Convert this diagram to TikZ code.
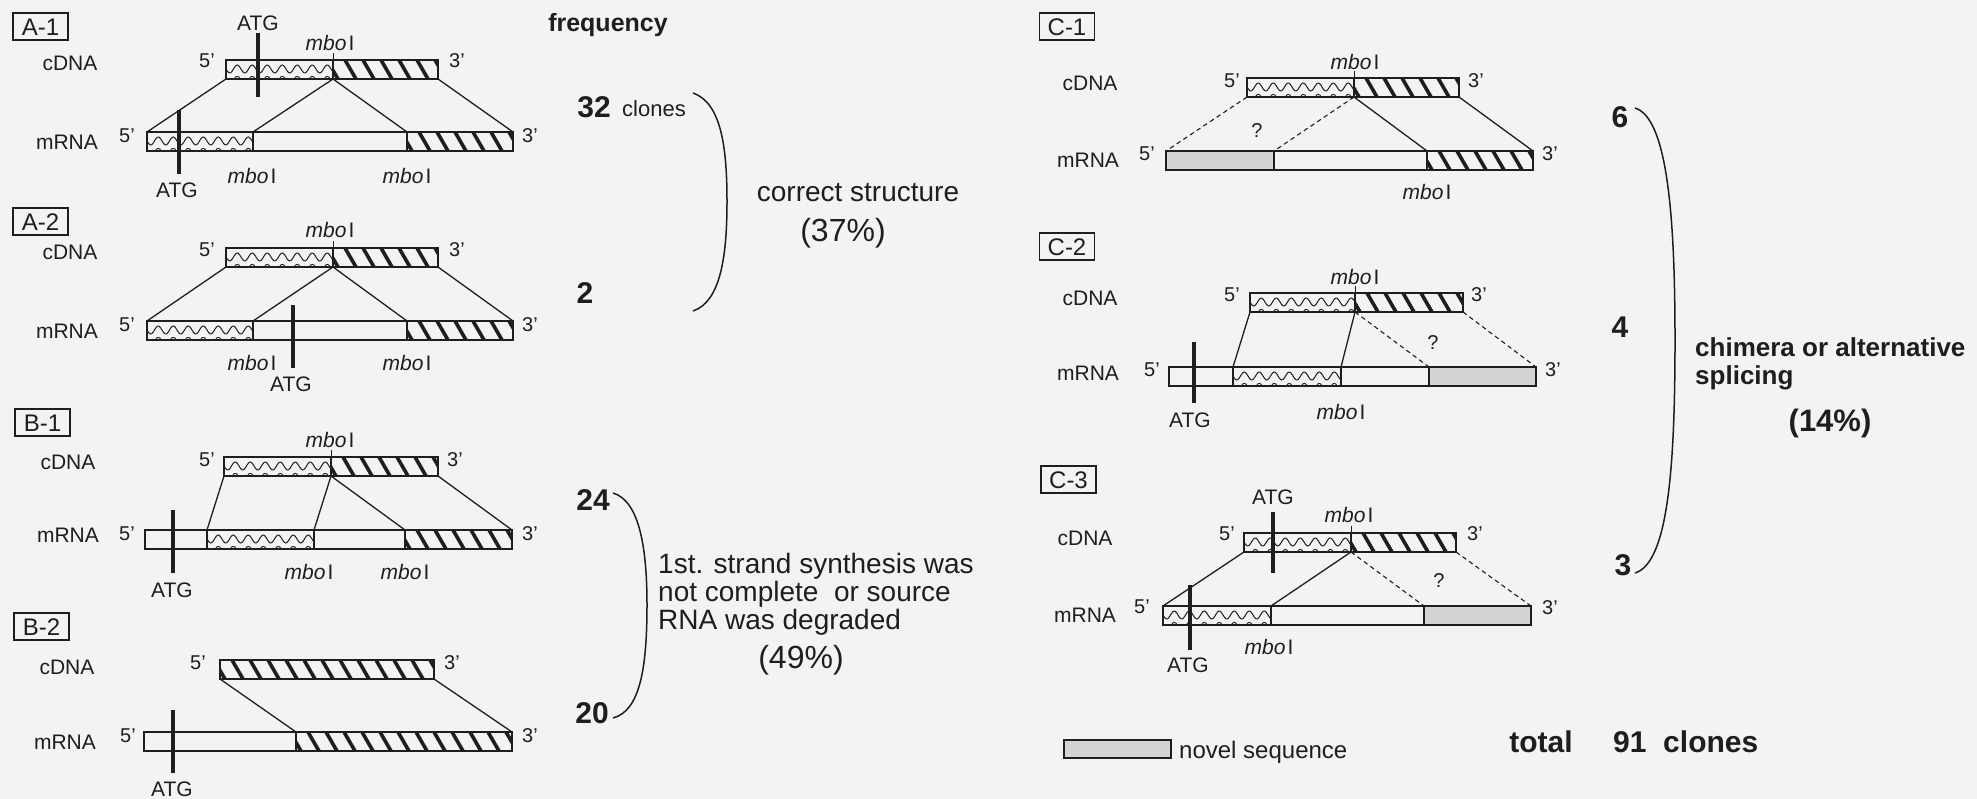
\documentclass[tikz,border=0pt]{standalone}
\usepackage{fontspec}
\setmainfont{Liberation Sans}
\newcommand\fs[1]{\fontsize{#1}{#1}\selectfont}
\definecolor{ink}{RGB}{30,30,30}
\definecolor{bg}{RGB}{243,243,241}
\definecolor{novel}{RGB}{212,212,210}
\tikzset{
 barline/.style={draw=ink, line width=1.2pt},
 conn/.style={draw=ink, line width=1.3pt},
 dconn/.style={draw=ink, line width=1.1pt, dash pattern=on 4.5pt off 3.5pt},
 atgbar/.style={draw=ink, line width=4pt},
 site/.style={draw=ink, line width=0.8pt},
 brk/.style={draw=ink, line width=1.5pt},
 tx/.style={inner sep=0pt, text=ink, font=\fs{21}, text height=15pt, text depth=0pt},
 pr/.style={inner sep=0pt, text=ink, font=\fs{20}, text height=14.4pt, text depth=0pt},
 qm/.style={inner sep=0pt, text=ink, font=\fs{20}, text height=14.4pt, text depth=0pt},
 bx/.style={draw=ink, line width=1.2pt, inner sep=0pt, minimum width=55pt, minimum height=27pt, text=ink, font=\fs{24}, text height=17.3pt, text depth=0pt},
 num/.style={inner sep=0pt, text=ink, font=\bfseries\fs{30}, text height=21.5pt, text depth=0pt},
 big/.style={inner sep=0pt, text=ink, font=\fs{28}, text height=20pt, text depth=0pt},
 pct/.style={inner sep=0pt, text=ink, font=\fs{32}, text height=23pt, text depth=0pt},
 sm/.style={inner sep=0pt, text=ink, font=\fs{22}, text height=15.8pt, text depth=0pt},
 leg/.style={inner sep=0pt, text=ink, font=\fs{24}, text height=17.3pt, text depth=0pt},
 hv/.style={inner sep=0pt, text=ink, font=\bfseries\fs{26}, text height=18.7pt, text depth=0pt},
}
\newcommand\mbo{\textit{mbo}\kern2pt I}
% #1 x1, #2 y top, #3 x2, #4 y bottom
\newcommand\wavebar[4]{%
 \begin{scope}
 \clip (#1,#2) rectangle (#3,#4);
 \pgfmathsetmacro\wm{(#2+#4)/2-0.5}
 \draw[ink, line width=1pt] plot[domain=#1:#3, samples=90] (\x,{\wm+4*sin((\x-#1)*24)});
 \pgfmathsetmacro\ws{#1+11.25}
 \pgfmathsetmacro\wn{#1+26.25}
 \foreach \k in {\ws,\wn,...,#3} \draw[ink, line width=0.9pt] (\k-2.6,#4) arc[start angle=180, end angle=360, radius=2.6];
 \end{scope}
 \draw[barline] (#1,#2) rectangle (#3,#4);}
\newcommand\hatchbar[4]{%
 \begin{scope}
 \clip (#1,#2) rectangle (#3,#4);
 \pgfmathsetmacro\hs{#1-6}
 \pgfmathsetmacro\hn{#1+12}
 \foreach \k in {\hs,\hn,...,#3} \draw[ink, line width=3.6pt] (\k,#2) -- ++(11,19);
 \end{scope}
 \draw[barline] (#1,#2) rectangle (#3,#4);}
\newcommand\plainbar[4]{\draw[barline] (#1,#2) rectangle (#3,#4);}
\newcommand\novelbar[4]{\draw[barline, fill=novel] (#1,#2) rectangle (#3,#4);}
\begin{document}
\begin{tikzpicture}[x=1pt, y=-1pt]
\fill[bg] (0,0) rectangle (1977,799);
\useasboundingbox (0,0) rectangle (1977,799);

% ================= A-1 =================
\node[bx] (A1box) at (40.5,26.5) {A-1};
\node[tx] (A1cl) at (70,63) {cDNA};
\node[tx] (A1ml) at (67,142) {mRNA};
\wavebar{226}{60}{333}{79}
\hatchbar{333}{60}{438}{79}
\wavebar{147}{132}{253}{151}
\plainbar{253}{132}{407}{151}
\hatchbar{407}{132}{513}{151}
\draw[site] (333,53) -- (333,79);
\coordinate (A1c1) at (226,79); \coordinate (A1cm) at (333,79); \coordinate (A1c2) at (438,79);
\coordinate (A1m1) at (147,132); \coordinate (A1ma) at (253,132); \coordinate (A1mb) at (407,132); \coordinate (A1m2) at (513,132);
\draw[conn] (A1c1) -- (A1m1);
\draw[conn] (A1cm) -- (A1ma);
\draw[conn] (A1cm) -- (A1mb);
\draw[conn] (A1c2) -- (A1m2);
\node[pr] (A1p5c) at (207,60) {5'};
\node[pr] (A1p3c) at (457,60) {3'};
\node[pr] (A1p5m) at (127,135) {5'};
\node[pr] (A1p3m) at (530,135) {3'};
\node[tx] (A1mbo) at (330,43) {\mbo};
\node[tx] (A1mboa) at (252,176) {\mbo};
\node[tx] (A1mbob) at (407,176) {\mbo};
\node[tx] (A1atg) at (258,23) {ATG};
\coordinate (A1atgt) at (258,33); \coordinate (A1atgb) at (258,97);
\draw[atgbar] (A1atgt) -- (A1atgb);
\node[tx] (A1atg2) at (177,190) {ATG};
\coordinate (A1atg2t) at (179,110); \coordinate (A1atg2b) at (179,174);
\draw[atgbar] (A1atg2t) -- (A1atg2b);

% ================= A-2 =================
\node[bx] (A2box) at (40.5,221.5) {A-2};
\node[tx] (A2cl) at (70,252) {cDNA};
\node[tx] (A2ml) at (67,331) {mRNA};
\wavebar{226}{248}{333}{267}
\hatchbar{333}{248}{438}{267}
\wavebar{147}{321}{253}{340}
\plainbar{253}{321}{407}{340}
\hatchbar{407}{321}{513}{340}
\draw[site] (333,241) -- (333,267);
\coordinate (A2c1) at (226,267); \coordinate (A2cm) at (333,267); \coordinate (A2c2) at (438,267);
\coordinate (A2m1) at (147,321); \coordinate (A2ma) at (253,321); \coordinate (A2mb) at (407,321); \coordinate (A2m2) at (513,321);
\draw[conn] (A2c1) -- (A2m1);
\draw[conn] (A2cm) -- (A2ma);
\draw[conn] (A2cm) -- (A2mb);
\draw[conn] (A2c2) -- (A2m2);
\node[pr] (A2p5c) at (207,249) {5'};
\node[pr] (A2p3c) at (457,249) {3'};
\node[pr] (A2p5m) at (127,324) {5'};
\node[pr] (A2p3m) at (530,324) {3'};
\node[tx] (A2mbo) at (330,230) {\mbo};
\node[tx] (A2mboa) at (252,363) {\mbo};
\node[tx] (A2mbob) at (407,363) {\mbo};
\node[tx] (A2atg) at (291,384) {ATG};
\coordinate (A2atgt) at (293,305); \coordinate (A2atgb) at (293,368);
\draw[atgbar] (A2atgt) -- (A2atgb);

% ================= B-1 =================
\node[bx] (B1box) at (42.5,422.5) {B-1};
\node[tx] (B1cl) at (68,462) {cDNA};
\node[tx] (B1ml) at (68,535) {mRNA};
\wavebar{224}{457}{331}{476}
\hatchbar{331}{457}{438}{476}
\plainbar{145}{530}{207}{549}
\wavebar{207}{530}{314}{549}
\plainbar{314}{530}{405}{549}
\hatchbar{405}{530}{512}{549}
\draw[site] (331,450) -- (331,476);
\coordinate (B1c1) at (224,476); \coordinate (B1cm) at (331,476); \coordinate (B1c2) at (438,476);
\coordinate (B1ma) at (207,530); \coordinate (B1mb) at (314,530); \coordinate (B1mc) at (405,530); \coordinate (B1m2) at (512,530);
\draw[conn] (B1c1) -- (B1ma);
\draw[conn] (B1cm) -- (B1mb);
\draw[conn] (B1cm) -- (B1mc);
\draw[conn] (B1c2) -- (B1m2);
\node[pr] (B1p5c) at (207,459) {5'};
\node[pr] (B1p3c) at (455,459) {3'};
\node[pr] (B1p5m) at (127,533) {5'};
\node[pr] (B1p3m) at (530,533) {3'};
\node[tx] (B1mbo) at (330,440) {\mbo};
\node[tx] (B1mboa) at (309,572) {\mbo};
\node[tx] (B1mbob) at (405,572) {\mbo};
\node[tx] (B1atg) at (172,590) {ATG};
\coordinate (B1atgt) at (173,510); \coordinate (B1atgb) at (173,573);
\draw[atgbar] (B1atgt) -- (B1atgb);

% ================= B-2 =================
\node[bx] (B2box) at (41.5,626.5) {B-2};
\node[tx] (B2cl) at (67,667) {cDNA};
\node[tx] (B2ml) at (65,742) {mRNA};
\hatchbar{220}{660}{434}{679}
\plainbar{144}{732}{296}{751}
\hatchbar{296}{732}{512}{751}
\coordinate (B2c1) at (220,679); \coordinate (B2c2) at (434,679);
\coordinate (B2ma) at (296,732); \coordinate (B2m2) at (512,732);
\draw[conn] (B2c1) -- (B2ma);
\draw[conn] (B2c2) -- (B2m2);
\node[pr] (B2p5c) at (198,662) {5'};
\node[pr] (B2p3c) at (452,662) {3'};
\node[pr] (B2p5m) at (128,735) {5'};
\node[pr] (B2p3m) at (530,735) {3'};
\node[tx] (B2atg) at (172,789) {ATG};
\coordinate (B2atgt) at (173,710); \coordinate (B2atgb) at (173,773);
\draw[atgbar] (B2atgt) -- (B2atgb);

% ================= frequency column =================
\node[hv, font=\bfseries\fs{25}] (freq) at (608,22) {frequency};
\node[num] (n32) at (594,107) {32};
\node[sm, anchor=west] (clo) at (622,109) {clones};
\node[num] (n2) at (585,293) {2};
\coordinate (br1a) at (693,93); \coordinate (br1b) at (727,202); \coordinate (br1c) at (693,311);
\draw[brk] (br1a) .. controls (722,103) and (727,150) .. (br1b) .. controls (727,258) and (720,302) .. (br1c);
\node[big] (cs) at (858,192) {correct structure};
\node[pct] (p37) at (843,230) {(37\%)};

\node[num] (n24) at (593,500) {24};
\node[num] (n20) at (592,713) {20};
\coordinate (br2a) at (613,493); \coordinate (br2b) at (647,605); \coordinate (br2c) at (613,718);
\draw[brk] (br2a) .. controls (640,501) and (647,550) .. (br2b) .. controls (647,668) and (640,711) .. (br2c);
\node[big, anchor=west] (s1) at (658,563) {1st. strand synthesis was};
\node[big, anchor=west] (s2) at (658,591) {not complete\ \ or source};
\node[big, anchor=west] (s3) at (658,619) {RNA was degraded};
\node[pct] (p49) at (801,657) {(49\%)};

% ================= C-1 =================
\node[bx] (C1box) at (1067,26.5) {C-1};
\node[tx] (C1cl) at (1090,83) {cDNA};
\node[tx] (C1ml) at (1088,160) {mRNA};
\wavebar{1247}{78}{1354}{97}
\hatchbar{1354}{78}{1459}{97}
\novelbar{1166}{151}{1274}{170}
\plainbar{1274}{151}{1427}{170}
\hatchbar{1427}{151}{1533}{170}
\draw[site] (1354,71) -- (1354,97);
\coordinate (C1c1) at (1247,97); \coordinate (C1cm) at (1354,97); \coordinate (C1c2) at (1459,97);
\coordinate (C1m1) at (1166,151); \coordinate (C1ma) at (1274,151); \coordinate (C1mb) at (1427,151); \coordinate (C1m2) at (1533,151);
\draw[dconn] (C1c1) -- (C1m1);
\draw[dconn] (C1cm) -- (C1ma);
\draw[conn] (C1cm) -- (C1mb);
\draw[conn] (C1c2) -- (C1m2);
\node[pr] (C1p5c) at (1232,80) {5'};
\node[pr] (C1p3c) at (1476,80) {3'};
\node[pr] (C1p5m) at (1147,153) {5'};
\node[pr] (C1p3m) at (1550,153) {3'};
\node[tx] (C1mbo) at (1355,62) {\mbo};
\node[tx] (C1mboa) at (1427,192) {\mbo};
\node[qm] (C1q) at (1257,130) {?};

% ================= C-2 =================
\node[bx] (C2box) at (1067,246.5) {C-2};
\node[tx] (C2cl) at (1090,298) {cDNA};
\node[tx] (C2ml) at (1088,373) {mRNA};
\wavebar{1250}{293}{1355}{312}
\hatchbar{1355}{293}{1463}{312}
\plainbar{1169}{367}{1233}{386}
\wavebar{1233}{367}{1341}{386}
\plainbar{1341}{367}{1429}{386}
\novelbar{1429}{367}{1536}{386}
\draw[site] (1355,286) -- (1355,312);
\coordinate (C2c1) at (1250,312); \coordinate (C2cm) at (1355,312); \coordinate (C2c2) at (1463,312);
\coordinate (C2ma) at (1233,367); \coordinate (C2mb) at (1341,367); \coordinate (C2mc) at (1429,367); \coordinate (C2m2) at (1536,367);
\draw[conn] (C2c1) -- (C2ma);
\draw[conn] (C2cm) -- (C2mb);
\draw[dconn] (C2cm) -- (C2mc);
\draw[dconn] (C2c2) -- (C2m2);
\node[pr] (C2p5c) at (1232,294) {5'};
\node[pr] (C2p3c) at (1479,294) {3'};
\node[pr] (C2p5m) at (1152,369) {5'};
\node[pr] (C2p3m) at (1553,369) {3'};
\node[tx] (C2mbo) at (1355,277) {\mbo};
\node[tx] (C2mboa) at (1341,412) {\mbo};
\node[qm] (C2q) at (1433,342) {?};
\node[tx] (C2atg) at (1190,420) {ATG};
\coordinate (C2atgt) at (1194,342); \coordinate (C2atgb) at (1194,403);
\draw[atgbar] (C2atgt) -- (C2atgb);

% ================= C-3 =================
\node[bx] (C3box) at (1068.5,479.5) {C-3};
\node[tx] (C3cl) at (1085,538) {cDNA};
\node[tx] (C3ml) at (1085,615) {mRNA};
\wavebar{1244}{533}{1351}{552}
\hatchbar{1351}{533}{1456}{552}
\wavebar{1163}{606}{1271}{625}
\plainbar{1271}{606}{1424}{625}
\novelbar{1424}{606}{1531}{625}
\draw[site] (1351,526) -- (1351,552);
\coordinate (C3c1) at (1244,552); \coordinate (C3cm) at (1351,552); \coordinate (C3c2) at (1456,552);
\coordinate (C3m1) at (1163,606); \coordinate (C3ma) at (1271,606); \coordinate (C3mb) at (1424,606); \coordinate (C3m2) at (1531,606);
\draw[conn] (C3c1) -- (C3m1);
\draw[conn] (C3cm) -- (C3ma);
\draw[dconn] (C3cm) -- (C3mb);
\draw[dconn] (C3c2) -- (C3m2);
\node[pr] (C3p5c) at (1227,533) {5'};
\node[pr] (C3p3c) at (1475,533) {3'};
\node[pr] (C3p5m) at (1142,606) {5'};
\node[pr] (C3p3m) at (1550,607) {3'};
\node[tx] (C3mbo) at (1349,515) {\mbo};
\node[tx] (C3mboa) at (1269,647) {\mbo};
\node[qm] (C3q) at (1439,580) {?};
\node[tx] (C3atg) at (1273,497) {ATG};
\coordinate (C3atgt) at (1273,512); \coordinate (C3atgb) at (1273,573);
\draw[atgbar] (C3atgt) -- (C3atgb);
\node[tx] (C3atg2) at (1188,665) {ATG};
\coordinate (C3atg2t) at (1190,585); \coordinate (C3atg2b) at (1190,650);
\draw[atgbar] (C3atg2t) -- (C3atg2b);

% ================= right column =================
\node[num] (n6) at (1620,117) {6};
\node[num] (n4) at (1620,327) {4};
\node[num] (n3) at (1623,565) {3};
\coordinate (br3a) at (1635,108); \coordinate (br3b) at (1675,340); \coordinate (br3c) at (1635,573);
\draw[brk] (br3a) .. controls (1668,118) and (1675,220) .. (br3b) .. controls (1675,468) and (1668,563) .. (br3c);
\node[hv, anchor=west] (ch1) at (1695,347) {chimera or alternative};
\node[hv, anchor=west] (ch2) at (1695,375) {splicing};
\node[pct, font=\bfseries\fs{31}] (p14) at (1830,420) {(14\%)};

% legend and total
\novelbar{1064}{740}{1171}{758}
\node[leg, anchor=west] (novel) at (1179,750) {novel sequence};
\node[num] (tot) at (1541,742) {total};
\node[num, anchor=west] (n91) at (1613,742) {91\ \ clones};
\end{tikzpicture}
\end{document}
